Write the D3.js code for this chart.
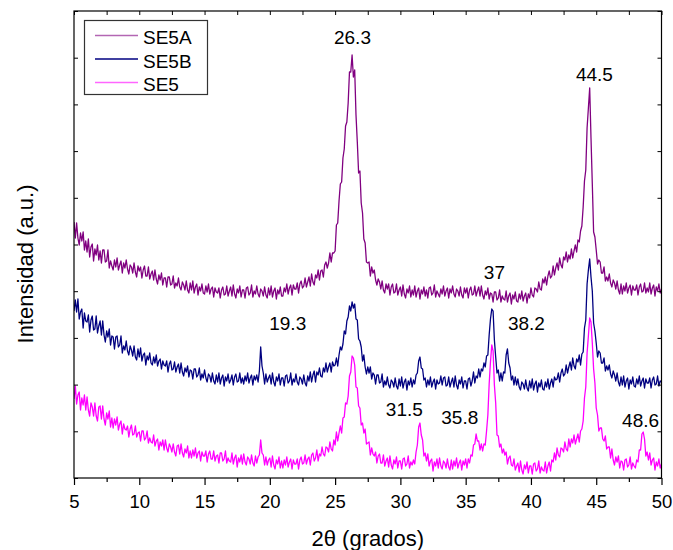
<!DOCTYPE html>
<html>
<head>
<meta charset="utf-8">
<script src="https://cdn.jsdelivr.net/npm/d3@7"></script>
<style>
  body { margin: 0; background: #fff; }
  text { font-family: Arial, "Liberation Sans", sans-serif; fill: #000; }
</style>
</head>
<body>
<div id="chart"></div>
<script>
// XRD patterns, 2theta from 5 to 50 in 0.1 steps, intensity in arbitrary units
const angleStart = 5;
const angleStep = 0.1;

const seriesNames = ["SE5A", "SE5B", "SE5"];
const seriesColors = ["#800080", "#000080", "#ff00ff"];

const se5a = [
  256,240,255,240,233,245,237,246,228,237, // 5
  226,239,221,231,234,217,229,223,233,218, // 6
  227,215,228,228,216,217,228,210,217,212, // 7
  208,218,211,220,208,213,217,205,215,210, // 8
  218,209,204,213,211,205,215,206,201,212, // 9
  207,211,200,208,212,202,202,211,199,204, // 10
  207,198,208,199,194,203,198,205,193,200, // 11
  200,191,201,201,193,194,202,190,195,192, // 12
  200,191,188,196,193,188,197,188,185,195, // 13
  188,197,185,191,194,183,191,187,194,185, // 14
  184,192,186,194,184,189,191,181,190,186, // 15
  185,190,180,188,191,183,184,192,182,187, // 16
  191,182,193,184,180,189,185,192,181,188, // 17
  188,180,190,191,183,185,193,181,187,184, // 18
  192,184,181,189,187,182,191,183,180,190, // 19
  183,192,181,187,190,179,188,184,191,182, // 20
  182,190,186,194,184,190,193,183,193,189, // 21
  189,195,185,194,197,190,192,200,191,196, // 22
  201,192,204,196,193,203,200,208,198,207, // 23
  208,201,213,216,210,215,225,216,225,225, // 24
  227,253,255,277,294,296,320,329,352,356, // 25
  375,406,406,423,401,408,363,336,305,307, // 26
  275,265,239,235,216,215,216,202,211,205, // 27
  208,198,193,199,196,189,197,188,185,194, // 28
  189,194,183,191,194,185,186,194,183,188, // 29
  191,182,193,184,180,189,185,192,181,188, // 30
  183,192,181,187,190,179,188,184,191,182, // 31
  188,180,190,191,183,185,193,181,187,184, // 32
  181,189,184,192,182,187,190,180,189,185, // 33
  192,184,181,189,187,182,191,183,180,190, // 34
  185,190,180,188,191,183,184,192,182,187, // 35
  191,182,192,183,179,187,183,190,179,185, // 36
  184,176,186,186,178,180,188,176,182,179, // 37
  178,187,176,182,185,174,183,179,186,177, // 38
  176,184,179,187,177,182,185,175,184,180, // 39
  190,183,181,190,189,186,196,189,188,199, // 40
  195,201,193,202,207,200,202,212,203,210, // 41
  215,208,220,213,210,221,218,226,216,223, // 42
  219,229,220,227,233,226,238,236,247,252, // 43
  271,297,308,350,370,390,340,294,246,241, // 44
  228,214,218,216,205,205,211,197,201,197, // 45
  204,195,191,198,195,189,197,188,184,194, // 46
  184,192,187,195,185,190,193,183,192,188, // 47
  188,193,183,191,194,186,187,195,185,190, // 48
  186,195,184,190,193,182,191,187,194,185, // 49
  189
];

const se5b = [
  167,178,166,179,159,166,169,150,165,157, // 5
  156,163,146,158,162,148,149,162,145,152, // 6
  157,143,157,143,136,147,141,149,133,142, // 7
  141,129,141,142,131,133,142,125,132,128, // 8
  137,127,123,132,128,122,132,121,118,129, // 9
  121,130,117,123,125,113,122,118,125,115, // 10
  113,121,115,123,112,117,119,109,117,113, // 11
  112,117,106,114,117,108,109,116,106,111, // 12
  114,105,115,106,102,110,106,112,101,108, // 13
  107,99,109,109,101,103,110,98,104,100,   // 14
  108,100,96,104,102,96,105,97,94,103,     // 15
  96,105,94,100,103,92,101,97,104,95,      // 16
  98,103,93,101,104,96,97,105,95,100,      // 17
  94,102,97,105,95,100,103,93,102,98,      // 18
  103,96,107,131,112,105,94,104,96,100,    // 19
  103,94,105,96,92,101,97,104,93,100,      // 20
  100,92,102,103,95,97,105,93,99,96,       // 21
  104,96,93,101,99,94,103,95,92,102,       // 22
  97,106,96,103,107,96,106,103,110,102,    // 23
  101,110,106,115,106,111,115,106,116,112, // 24
  113,120,112,123,131,128,134,147,144,157, // 25
  161,172,167,176,170,174,159,158,139,137, // 26
  131,117,123,111,104,111,105,111,99,105,  // 27
  103,94,103,103,95,96,104,91,97,93,       // 28
  101,93,90,98,96,91,100,92,89,99,         // 29
  92,101,90,96,99,88,97,93,100,91,         // 30
  98,94,103,105,117,121,110,109,98,100,    // 31
  91,98,93,101,91,96,99,89,98,94,          // 32
  95,102,93,100,101,92,93,101,91,96,       // 33
  100,91,102,93,89,98,94,101,90,97,        // 34
  97,89,99,100,92,97,106,95,102,100,       // 35
  109,101,109,107,115,111,122,123,143,159, // 36
  169,167,138,121,105,108,97,105,97,106,   // 37
  105,123,129,115,110,98,102,93,101,93,    // 38
  99,91,88,96,94,89,98,90,87,97,           // 39
  90,99,88,94,97,86,95,91,98,89,           // 40
  88,96,91,99,89,95,99,91,101,98,          // 41
  99,105,96,105,109,102,104,113,105,111,   // 42
  116,108,120,112,109,119,116,123,113,124, // 43
  126,150,158,194,208,219,201,187,155,147, // 44
  135,121,127,125,115,115,120,107,112,108, // 45
  113,104,100,107,103,97,105,96,92,101,    // 46
  93,102,91,97,100,89,98,94,101,92,        // 47
  91,99,94,102,92,97,100,90,99,95,         // 48
  95,100,90,98,101,93,94,102,92,97,        // 49
  96
];

const se5 = [
  79,92,74,83,86,68,80,73,83,68,           // 5
  81,68,62,75,71,62,75,62,57,71,           // 6
  72,59,72,59,53,65,59,67,51,60,           // 7
  50,59,53,61,48,54,57,44,54,49,           // 8
  48,52,41,49,53,43,44,52,41,45,           // 9
  46,37,47,47,38,40,47,35,40,36,           // 10
  35,43,32,37,39,28,36,32,38,28,           // 11
  38,30,26,34,31,26,34,26,22,32,           // 12
  33,24,34,25,21,29,25,32,20,27,           // 13
  20,28,22,30,20,25,27,17,26,22,           // 14
  22,27,16,24,27,19,19,27,17,22,           // 15
  23,15,25,25,17,19,27,15,20,17,           // 16
  16,25,14,20,23,11,20,16,23,14,           // 17
  24,16,13,21,19,14,23,15,12,22,           // 18
  15,21,23,38,25,23,13,21,13,18,           // 19
  20,11,22,13,9,18,14,21,10,17,            // 20
  10,18,13,21,11,16,19,9,18,14,            // 21
  14,19,9,18,21,14,15,23,14,19,            // 22
  21,13,23,25,17,20,28,17,24,22,           // 23
  31,24,22,31,30,26,36,29,27,38,           // 24
  33,46,37,45,52,45,60,61,75,74,           // 25
  82,102,106,122,120,113,91,90,72,70,      // 26
  53,55,45,49,34,35,36,23,30,24,           // 27
  22,26,15,22,24,15,15,23,12,17,           // 28
  20,11,22,13,9,18,14,21,10,17,            // 29
  17,9,19,20,12,14,22,10,16,13,            // 30
  18,14,26,33,51,55,43,38,22,25,           // 31
  17,24,12,17,19,7,16,12,19,10,            // 32
  20,12,9,17,15,10,19,11,8,18,             // 33
  9,17,12,20,10,15,18,8,17,13,             // 34
  19,10,19,15,23,22,33,34,44,37,           // 35
  37,28,34,27,34,33,47,63,94,116,          // 36
  133,127,93,75,43,42,31,34,25,29,         // 37
  23,26,14,20,22,13,12,19,8,12,            // 38
  15,6,17,8,4,13,9,16,5,12,                // 39
  12,4,14,15,7,9,17,5,11,8,                // 40
  7,16,5,12,16,7,18,16,25,18,              // 41
  30,23,21,30,29,26,36,29,27,39,           // 42
  31,39,35,43,34,39,44,36,47,49,           // 43
  57,80,91,125,142,160,156,135,109,95,     // 44
  70,63,47,50,50,39,37,42,29,31,           // 45
  31,20,29,18,13,21,16,22,10,17,           // 46
  16,8,18,19,11,13,21,9,15,12,             // 47
  10,18,16,28,28,44,46,39,22,26,           // 48
  18,25,13,18,20,8,16,12,19,10,            // 49
  14
];

// peak labels: text, 2theta where the label is centred, intensity of its baseline
const peakText = ["26.3", "44.5", "37", "19.3", "38.2", "31.5", "35.8", "48.6"];
const peakAngle = [26.33, 44.86, 37.2, 21.37, 39.65, 30.3, 34.55, 48.4];
const peakLevel = [434, 397, 199, 148, 148, 62, 54, 51];

const xMajor = d3.range(5, 50.1, 5);
const xMinor = d3.range(7.5, 50, 5);
const xAll = d3.range(5, 50.1, 2.5);

function renderChart() {
    const width = 673, height = 550;
    const margin = {top: 11, right: 11.5, bottom: 72, left: 74};
    const innerW = width - margin.left - margin.right;
    const innerH = height - margin.top - margin.bottom;

    const x = d3.scaleLinear().domain([5, 50]).range([margin.left, width - margin.right]);
    const y = d3.scaleLinear().domain([0, 467]).range([height - margin.bottom, margin.top]);
    const yTicks = d3.range(0, 468, 46.7);

    const svg = d3.select("#chart").append("svg")
        .attr("width", width)
        .attr("height", height)
        .style("display", "block");

    svg.append("rect").attr("width", width).attr("height", height).attr("fill", "#fff");

    // clip so the traces stay inside the frame
    svg.append("clipPath").attr("id", "plot-clip")
        .append("rect")
        .attr("x", margin.left).attr("y", margin.top)
        .attr("width", innerW).attr("height", innerH);

    const line = d3.line()
        .x((d, i) => x(angleStart + i * angleStep))
        .y(d => y(d));

    const traces = svg.append("g").attr("clip-path", "url(#plot-clip)");
    [se5a, se5b, se5].forEach((values, k) => {
        traces.append("path")
            .datum(values)
            .attr("fill", "none")
            .attr("stroke", seriesColors[k])
            .attr("stroke-width", 1.3)
            .attr("stroke-linejoin", "round")
            .attr("d", line);
    });

    // bottom axis, outward ticks
    const bottom = svg.append("g").attr("transform", `translate(0,${y(0)})`);
    bottom.call(d3.axisBottom(x).tickValues(xMajor).tickSize(7).tickFormat(d3.format("d")));
    bottom.select(".domain").remove();
    bottom.selectAll("line").attr("stroke", "#000").attr("stroke-width", 1.2);
    bottom.selectAll("text")
        .attr("y", 30).attr("dy", null)
        .style("font-size", "18.5px");

    const bottomMinor = svg.append("g").attr("transform", `translate(0,${y(0)})`);
    bottomMinor.call(d3.axisBottom(x).tickValues(xMinor).tickSize(4).tickFormat(""));
    bottomMinor.select(".domain").remove();
    bottomMinor.selectAll("line").attr("stroke", "#000").attr("stroke-width", 1.2);

    // top axis, inward ticks
    const top = svg.append("g").attr("transform", `translate(0,${margin.top})`);
    top.call(d3.axisBottom(x).tickValues(xAll).tickSize(4).tickFormat(""));
    top.select(".domain").remove();
    top.selectAll("line").attr("stroke", "#000");

    // left and right, inward ticks, no labels
    const left = svg.append("g").attr("transform", `translate(${margin.left},0)`);
    left.call(d3.axisRight(y).tickValues(yTicks).tickSize(4).tickFormat(""));
    left.select(".domain").remove();
    left.selectAll("line").attr("stroke", "#000");

    const right = svg.append("g").attr("transform", `translate(${width - margin.right},0)`);
    right.call(d3.axisLeft(y).tickValues(yTicks).tickSize(4).tickFormat(""));
    right.select(".domain").remove();
    right.selectAll("line").attr("stroke", "#000");

    // frame
    svg.append("rect")
        .attr("x", margin.left).attr("y", margin.top)
        .attr("width", innerW).attr("height", innerH)
        .attr("fill", "none")
        .attr("stroke", "#000")
        .attr("stroke-width", 1.2);

    // peak labels
    svg.append("g")
        .selectAll("text")
        .data(peakText)
        .join("text")
        .attr("x", (d, i) => x(peakAngle[i]))
        .attr("y", (d, i) => y(peakLevel[i]))
        .attr("text-anchor", "middle")
        .style("font-size", "19px")
        .text(d => d);

    // axis titles
    svg.append("text")
        .attr("x", x(27.5))
        .attr("y", 546)
        .attr("text-anchor", "middle")
        .style("font-size", "22px")
        .text("2θ (grados)");

    svg.append("text")
        .attr("transform", "translate(33,264) rotate(-90)")
        .attr("text-anchor", "middle")
        .style("font-size", "22px")
        .text("Intensidad (a.u.)");

    // legend
    const legend = svg.append("g");
    legend.append("rect")
        .attr("x", 84.5).attr("y", 20.5)
        .attr("width", 123).attr("height", 74)
        .attr("fill", "#fff")
        .attr("stroke", "#333")
        .attr("stroke-width", 1.2);
    seriesNames.forEach((name, k) => {
        const ly = 35.5 + k * 23.5;
        legend.append("line")
            .attr("x1", 95).attr("x2", 138)
            .attr("y1", ly).attr("y2", ly)
            .attr("stroke", seriesColors[k])
            .attr("stroke-opacity", k === 1 ? 1 : 0.6)
            .attr("stroke-width", 1.5);
        legend.append("text")
            .attr("x", 143)
            .attr("y", ly + 8.5)
            .style("font-size", "19px")
            .text(name);
    });
}

renderChart();
</script>
</body>
</html>
